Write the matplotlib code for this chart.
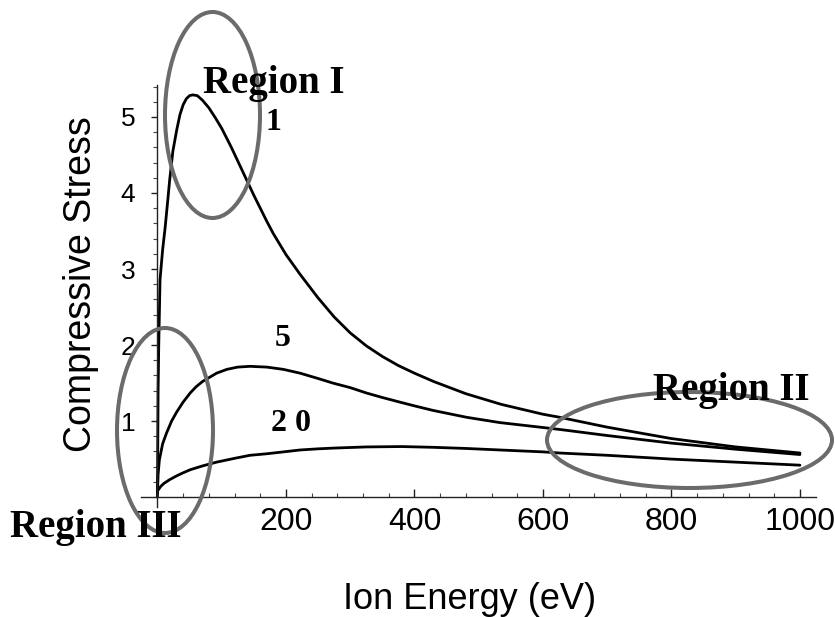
import matplotlib.pyplot as plt
from matplotlib.patches import Ellipse
from matplotlib.ticker import MultipleLocator

# Compressive stress vs ion energy for three flux ratios
energy_1 = [0, 1, 2, 4, 8, 12, 16, 19, 24, 30, 35, 40, 45, 50, 55, 62, 70, 80,
            90, 100, 115, 130, 140, 150, 160, 170, 180, 200, 222, 250, 275, 300,
            325, 350, 375, 400, 430, 480, 535, 600, 626, 700, 800, 900, 1000]
stress_1 = [0, 1.4, 2.0, 2.86, 3.25, 3.55, 3.9, 4.17, 4.55, 4.83, 5.03, 5.16,
            5.24, 5.28, 5.29, 5.28, 5.22, 5.12, 4.99, 4.85, 4.60, 4.33, 4.15,
            3.97, 3.80, 3.63, 3.47, 3.19, 2.93, 2.62, 2.37, 2.16, 1.99, 1.85,
            1.73, 1.63, 1.52, 1.36, 1.22, 1.09, 1.05, 0.92, 0.77, 0.66, 0.58]

energy_5 = [0, 1, 3, 8, 14, 22, 30, 40, 51, 60, 70, 80, 92, 108, 125, 144, 170,
            196, 222, 250, 273, 300, 325, 350, 377, 400, 429, 481, 533, 585, 626,
            700, 800, 900, 1000]
stress_5 = [0.05, 0.3, 0.49, 0.7, 0.84, 1.0, 1.12, 1.25, 1.37, 1.45, 1.52, 1.57,
            1.63, 1.68, 1.71, 1.72, 1.71, 1.68, 1.63, 1.56, 1.50, 1.44, 1.37,
            1.31, 1.25, 1.20, 1.14, 1.05, 0.98, 0.93, 0.89, 0.81, 0.71, 0.63,
            0.56]

energy_20 = [0, 5, 10, 19, 30, 40, 51, 70, 92, 120, 144, 170, 191, 222, 250,
             275, 325, 380, 429, 480, 533, 600, 626, 700, 800, 900, 1000]
stress_20 = [0.08, 0.14, 0.18, 0.23, 0.28, 0.32, 0.36, 0.41, 0.46, 0.51, 0.55,
             0.57, 0.59, 0.62, 0.635, 0.645, 0.66, 0.665, 0.655, 0.64, 0.62,
             0.595, 0.58, 0.55, 0.50, 0.46, 0.42]

x_ticks = [200, 400, 600, 800, 1000]
y_ticks = [1, 2, 3, 4, 5]

W, H = 835, 617
fig = plt.figure(figsize=(W / 100, H / 100), dpi=100)
ax = fig.add_axes([141.4 / W, 1 - 507 / H, 674.6 / W, 422 / H])

for e, s in [(energy_1, stress_1), (energy_5, stress_5), (energy_20, stress_20)]:
    ax.plot(e, s, color="black", lw=2.0, solid_capstyle="round",
            solid_joinstyle="round")

ax.set_xlim(-25, 1025)
ax.set_ylim(-0.13, 5.42)

for side in ["top", "right"]:
    ax.spines[side].set_visible(False)
ax.spines["left"].set_position(("data", 0))
ax.spines["bottom"].set_position(("data", 0))
for side in ["left", "bottom"]:
    ax.spines[side].set_color("#222222")
    ax.spines[side].set_linewidth(1.0)

ax.set_xticks(x_ticks)
ax.set_yticks(y_ticks)
ax.xaxis.set_minor_locator(MultipleLocator(40))
ax.yaxis.set_minor_locator(MultipleLocator(0.2))
ax.tick_params(axis="x", which="major", direction="in", length=6, width=1,
               pad=7, labelsize=23, colors="#222222", labelcolor="black")
ax.tick_params(axis="x", which="minor", direction="in", length=3, width=0.8,
               colors="#444444")
ax.tick_params(axis="y", which="major", direction="out", length=4, width=1,
               pad=12, labelsize=19, colors="#222222", labelcolor="black")
ax.tick_params(axis="y", which="minor", direction="out", length=3, width=0.8,
               colors="#444444")
for lab in ax.get_xticklabels() + ax.get_yticklabels():
    lab.set_family("Liberation Sans")

ax.set_xlabel("Ion Energy (eV)", fontsize=26, family="Liberation Sans")
ax.xaxis.set_label_coords(0.487, -0.177)
ax.set_ylabel("Compressive Stress", fontsize=27, family="Liberation Sans",
              va="center")
ax.yaxis.set_label_coords(-0.0895, 0.528)

# curve labels
num_font = dict(family="Liberation Serif", fontweight="bold", fontsize=23,
                ha="center", va="center")
ax.text(180, 4.93, "1", **num_font)
ax.text(195, 2.09, "5", **num_font)
ax.text(208, 0.97, "2 0", **num_font)

# highlighted regions
ring = dict(fill=False, edgecolor="#6b6b6b", lw=2.9, transform=fig.transFigure,
            zorder=5)
for cx, cy, w, h in [(212.5, 115, 95, 206), (165, 430.5, 96, 205),
                     (689.5, 440, 285, 96)]:
    fig.patches.append(Ellipse((cx / W, 1 - cy / H), w / W, h / H, **ring))

reg_font = dict(family="Liberation Serif", fontweight="bold", fontsize=28,
                ha="left", va="baseline", zorder=6)
fig.text(203 / W, 1 - 93 / H, "Region I", **reg_font)
fig.text(653 / W, 1 - 400 / H, "Region II", **reg_font)
fig.text(10 / W, 1 - 537 / H, "Region III", **reg_font)

fig.savefig("out.png", dpi=100)
